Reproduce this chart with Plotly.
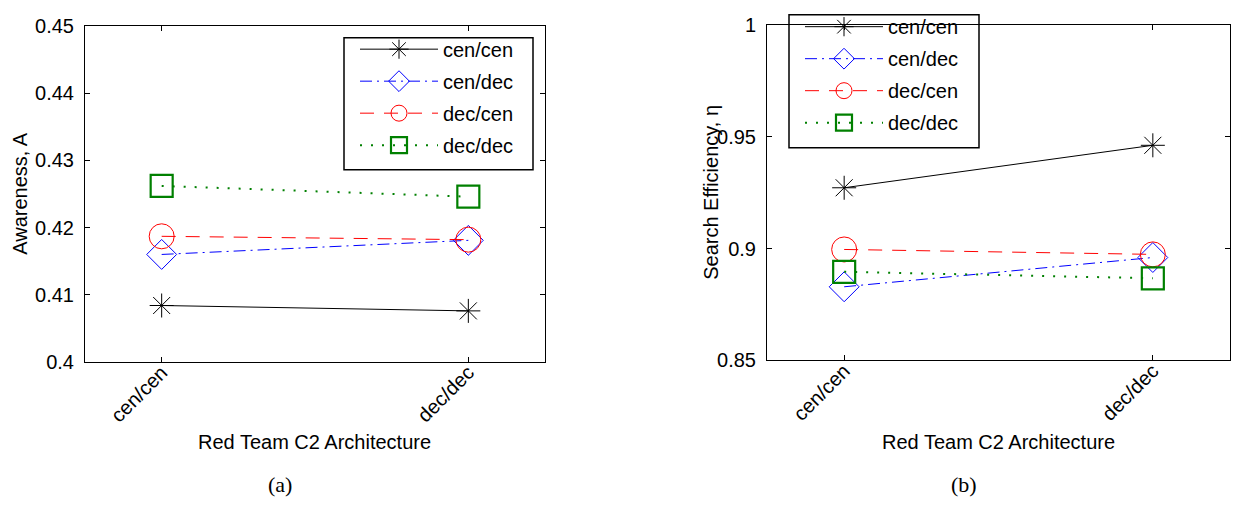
import plotly.graph_objects as go

W, H = 1236, 512

categories = ["cen/cen", "dec/dec"]
series_names = ["cen/cen", "cen/dec", "dec/cen", "dec/dec"]

# (a) Awareness, A
awareness = {
    "cen/cen": [0.4084, 0.4076],
    "cen/dec": [0.4160, 0.4181],
    "dec/cen": [0.4187, 0.4182],
    "dec/dec": [0.4262, 0.4246],
}
# (b) Search efficiency, eta
efficiency = {
    "cen/cen": [0.9272, 0.9462],
    "cen/dec": [0.8829, 0.8960],
    "dec/cen": [0.8996, 0.8974],
    "dec/dec": [0.8896, 0.8867],
}

y_ticks_a = [0.40, 0.41, 0.42, 0.43, 0.44, 0.45]
y_ticktext_a = ["0.4", "0.41", "0.42", "0.43", "0.44", "0.45"]
y_ticks_b = [0.85, 0.90, 0.95, 1.00]
y_ticktext_b = ["0.85", "0.9", "0.95", "1"]

styles = {
    "cen/cen": dict(color="black", dash="solid", width=1, symbol="asterisk-open", size=20, mlw=1),
    "cen/dec": dict(color="blue", dash="12px,5px,2px,5px", width=1, symbol="diamond-open", size=23, mlw=1),
    "dec/cen": dict(color="red", dash="14px,10px", width=1, symbol="circle-open", size=25, mlw=1),
    "dec/dec": dict(color="green", dash="2px,9px", width=2, symbol="square-open", size=22, mlw=2.2),
}

FONT = "Liberation Sans, Arial, Helvetica, sans-serif"

fig = go.Figure()

for data, xa, ya, leg in [(awareness, "x", "y", "legend"), (efficiency, "x2", "y2", "legend2")]:
    for name in series_names:
        s = styles[name]
        fig.add_trace(go.Scatter(
            x=categories, y=data[name], name=name, mode="lines+markers",
            xaxis=xa, yaxis=ya, legend=leg, legendgroup=name,
            line=dict(color=s["color"], dash=s["dash"], width=s["width"]),
            marker=dict(symbol=s["symbol"], size=s["size"], color=s["color"],
                        line=dict(color=s["color"], width=s["mlw"])),
        ))

def px(x):
    return x / W

def py(y):
    return 1 - y / H

axis_common = dict(
    showline=True, linecolor="black", linewidth=1, mirror="ticks",
    ticks="inside", ticklen=5, tickcolor="black", tickwidth=1,
    showgrid=False, zeroline=False,
    tickfont=dict(family=FONT, size=20, color="black"),
)

fig.update_layout(
    width=W, height=H, margin=dict(l=0, r=0, t=0, b=0),
    paper_bgcolor="white", plot_bgcolor="white",
    showlegend=True,
    xaxis=dict(domain=[px(85), px(545)], anchor="y", type="category",
               range=[-0.25, 1.25], tickangle=-45, ticklabelstandoff=-10, **axis_common),
    yaxis=dict(domain=[py(366.7), py(15.7)], anchor="x", range=[0.40, 0.45],
               tickvals=y_ticks_a, ticktext=y_ticktext_a, ticklabelstandoff=6, **axis_common),
    xaxis2=dict(domain=[px(767), px(1230)], anchor="y2", type="category",
                range=[-0.25, 1.25], tickangle=-45, ticklabelstandoff=-10, **axis_common),
    yaxis2=dict(domain=[py(365), py(14.7)], anchor="x2", range=[0.85, 1.0],
                tickvals=y_ticks_b, ticktext=y_ticktext_b, ticklabelstandoff=6, **axis_common),
    legend=dict(x=px(355), y=py(19.5), xanchor="left", yanchor="top",
                bgcolor="rgba(0,0,0,0)", borderwidth=0, itemwidth=78,
                traceorder="grouped", tracegroupgap=3,
                font=dict(family=FONT, size=20, color="black")),
    legend2=dict(x=px(800), y=py(-4), xanchor="left", yanchor="top",
                 bgcolor="rgba(0,0,0,0)", borderwidth=0, itemwidth=78,
                 traceorder="grouped", tracegroupgap=3,
                 font=dict(family=FONT, size=20, color="black")),
)

# legend boxes
for x0, x1, y0, y1 in [(344, 533, 28, 166), (789, 979, 4, 143)]:
    fig.add_shape(type="rect", xref="paper", yref="paper",
                  x0=px(x0), x1=px(x1), y0=py(y0), y1=py(y1),
                  line=dict(color="black", width=1.5), fillcolor="white", layer="below")

annotations = [
    dict(text="Awareness, A", x=px(20), y=py(191), textangle=-90),
    dict(text="Search Efficiency, η", x=px(711), y=py(190), textangle=-90),
    dict(text="Red Team C2 Architecture", x=px(314), y=py(450)),
    dict(text="Red Team C2 Architecture", x=px(998), y=py(450)),
]
for a in annotations:
    fig.add_annotation(xref="paper", yref="paper", showarrow=False,
                       xanchor="center", yanchor="middle",
                       font=dict(family=FONT, size=20, color="black"), **a)

for text, x in [("(a)", 280), ("(b)", 964)]:
    fig.add_annotation(text=text, xref="paper", yref="paper", x=px(x), y=py(495),
                       showarrow=False, xanchor="center", yanchor="middle",
                       font=dict(family="Liberation Serif, Times New Roman, serif", size=22, color="black"))

fig.write_html("out.html")
